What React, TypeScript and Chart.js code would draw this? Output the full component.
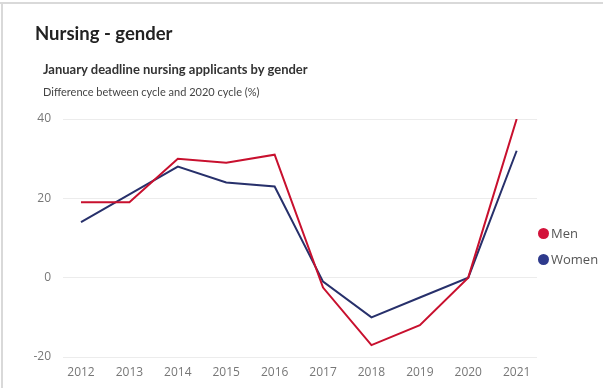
import React, { useEffect, useRef } from "react";
import { Chart, registerables } from "chart.js";

Chart.register(...registerables);

const years = [2012, 2013, 2014, 2015, 2016, 2017, 2018, 2019, 2020, 2021];
const men = [19, 19, 30, 29, 31, -2.5, -17, -12, 0, 40];
const women = [14, 21, 28, 24, 23, -1, -10, -5, 0, 32];
const yTicks = [-20, 0, 20, 40];
const seriesNames = ["Men", "Women"];
const lineColors = ["#C8102E", "#27306B"];
const dotColors = ["#D3123A", "#2E3A8C"];

export default function App() {
  const ref = useRef<HTMLCanvasElement | null>(null);
  useEffect(() => {
    if (!ref.current) return;
    const mk = (vals: number[]) => years.map((y, i) => ({ x: y, y: vals[i] }));
    const chart = new Chart(ref.current, {
      type: "line",
      data: {
        datasets: [
          { label: seriesNames[0], data: mk(men), borderColor: lineColors[0], backgroundColor: lineColors[0], borderWidth: 2, pointRadius: 0, tension: 0 },
          { label: seriesNames[1], data: mk(women), borderColor: lineColors[1], backgroundColor: lineColors[1], borderWidth: 2, pointRadius: 0, tension: 0 },
        ],
      },
      options: {
        animation: false,
        responsive: false,
        maintainAspectRatio: false,
        layout: { padding: { top: 119, left: 0, right: 66, bottom: 0 } },
        plugins: { legend: { display: false }, tooltip: { enabled: false } },
        scales: {
          x: {
            type: "linear",
            min: 2011.628,
            max: 2021.42,
            afterBuildTicks: (s: any) => { s.ticks = years.map((v) => ({ value: v })); },
            afterFit: (s: any) => { s.height = 31; },
            grid: { display: false, drawTicks: false },
            border: { display: false },
            ticks: {
              callback: (v: any) => String(v),
              color: "#777",
              padding: 8,
              maxRotation: 0,
              autoSkip: false,
              font: { family: "'Open Sans', sans-serif", size: 12 },
            },
          },
          y: {
            min: -20,
            max: 40,
            afterBuildTicks: (s: any) => { s.ticks = yTicks.map((v) => ({ value: v })); },
            afterFit: (s: any) => { s.width = 63; },
            grid: { color: "#ececec", drawTicks: false, lineWidth: 1 },
            border: { display: false },
            ticks: {
              color: "#777",
              padding: 12,
              font: { family: "'Open Sans', sans-serif", size: 12 },
            },
          },
        },
      },
    });
    return () => chart.destroy();
  }, []);

  const font = "'Open Sans', sans-serif";
  const tfont = "Lato, sans-serif";
  return (
    <div style={{ position: "fixed", left: 0, top: 0, width: 603, height: 388, background: "#fff", overflow: "hidden", fontFamily: font }}>
      <div style={{ position: "absolute", left: 0, top: 2, width: 603, height: 2, background: "#d9d9d9" }} />
      <div style={{ position: "absolute", left: 1, top: 2, width: 2, height: 386, background: "#d9d9d9" }} />
      <canvas ref={ref} width={603} height={388} style={{ position: "absolute", left: 0, top: 0, width: 603, height: 388 }} />
      <div style={{ position: "absolute", left: 35, top: 20, fontFamily: tfont, fontSize: 18.5, fontWeight: 700, color: "#222", whiteSpace: "nowrap", lineHeight: "26px" }}>Nursing - gender</div>
      <div style={{ position: "absolute", left: 43, top: 60, fontFamily: tfont, fontSize: 13, fontWeight: 700, color: "#333", whiteSpace: "nowrap", lineHeight: "18px" }}>January deadline nursing applicants by gender</div>
      <div style={{ position: "absolute", left: 43, top: 83, fontFamily: tfont, fontSize: 11, color: "#444", whiteSpace: "nowrap", lineHeight: "18px" }}>Difference between cycle and 2020 cycle (%)</div>
      {seriesNames.map((n, i) => (
        <div key={n} style={{ position: "absolute", left: 538, top: 224 + i * 26, height: 18, display: "flex", alignItems: "center", fontSize: 13, color: "#555", whiteSpace: "nowrap" }}>
          <span style={{ display: "inline-block", width: 11, height: 11, borderRadius: "50%", background: dotColors[i], marginRight: 2 }} />
          {n}
        </div>
      ))}
    </div>
  );
}
